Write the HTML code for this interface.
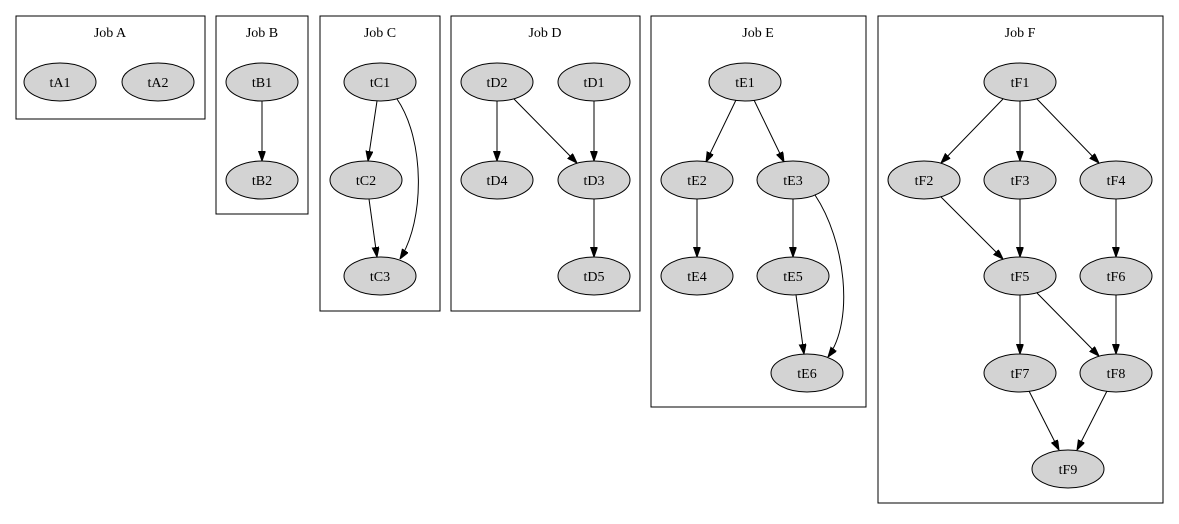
<!DOCTYPE html>
<html><head><meta charset="utf-8"><style>
html,body{margin:0;padding:0;background:#fff;}
text{font-family:"Liberation Serif",serif;font-size:14px;fill:#000;}
</style></head><body>
<svg width="1179" height="519" viewBox="0 0 1179 519" xmlns="http://www.w3.org/2000/svg">
<defs>
<marker id="a" markerWidth="10" markerHeight="8" refX="10" refY="3.5" orient="auto" markerUnits="userSpaceOnUse">
<path d="M0,0 L10,3.5 L0,7 Z" fill="#000" stroke="#000"/>
</marker>
</defs>
<g fill="none" stroke="#000" stroke-width="1">
<rect x="16" y="16" width="189" height="103"/>
<rect x="216" y="16" width="92" height="198"/>
<rect x="320" y="16" width="120" height="295"/>
<rect x="451" y="16" width="189" height="295"/>
<rect x="651" y="16" width="215" height="391"/>
<rect x="878" y="16" width="285" height="487"/>
</g>
<g text-anchor="middle">
<text x="110" y="37">Job A</text>
<text x="262" y="37">Job B</text>
<text x="380" y="37">Job C</text>
<text x="545" y="37">Job D</text>
<text x="758" y="37">Job E</text>
<text x="1020" y="37">Job F</text>
</g>
<g stroke="#000" fill="none" marker-end="url(#a)">
<line x1="262" y1="101" x2="262" y2="161"/>
<line x1="377" y1="101" x2="368" y2="161"/>
<path d="M397,99 C425,140 425,220 400,259"/>
<line x1="369" y1="199" x2="377" y2="257"/>
<line x1="497" y1="101" x2="497" y2="161"/>
<line x1="514" y1="99" x2="577" y2="163"/>
<line x1="594" y1="101" x2="594" y2="161"/>
<line x1="594" y1="199" x2="594" y2="257"/>
<line x1="736" y1="100" x2="706" y2="162"/>
<line x1="754" y1="100" x2="784" y2="162"/>
<line x1="697" y1="199" x2="697" y2="257"/>
<line x1="793" y1="199" x2="793" y2="257"/>
<line x1="796" y1="295" x2="804" y2="354"/>
<path d="M815,195 C845,240 855,320 828,357"/>
<line x1="1003" y1="99" x2="941" y2="163"/>
<line x1="1020" y1="101" x2="1020" y2="161"/>
<line x1="1037" y1="99" x2="1099" y2="163"/>
<line x1="941" y1="197" x2="1003" y2="259"/>
<line x1="1020" y1="199" x2="1020" y2="257"/>
<line x1="1116" y1="199" x2="1116" y2="257"/>
<line x1="1020" y1="295" x2="1020" y2="354"/>
<line x1="1037" y1="293" x2="1099" y2="356"/>
<line x1="1116" y1="295" x2="1116" y2="354"/>
<line x1="1029" y1="391" x2="1059" y2="450"/>
<line x1="1107" y1="391" x2="1077" y2="450"/>
</g>
<g fill="#d3d3d3" stroke="#000">
<ellipse cx="60" cy="82" rx="36" ry="19"/><ellipse cx="158" cy="82" rx="36" ry="19"/>
<ellipse cx="262" cy="82" rx="36" ry="19"/><ellipse cx="262" cy="180" rx="36" ry="19"/>
<ellipse cx="380" cy="82" rx="36" ry="19"/><ellipse cx="366" cy="180" rx="36" ry="19"/><ellipse cx="380" cy="276" rx="36" ry="19"/>
<ellipse cx="497" cy="82" rx="36" ry="19"/><ellipse cx="594" cy="82" rx="36" ry="19"/><ellipse cx="497" cy="180" rx="36" ry="19"/><ellipse cx="594" cy="180" rx="36" ry="19"/><ellipse cx="594" cy="276" rx="36" ry="19"/>
<ellipse cx="745" cy="82" rx="36" ry="19"/><ellipse cx="697" cy="180" rx="36" ry="19"/><ellipse cx="793" cy="180" rx="36" ry="19"/><ellipse cx="697" cy="276" rx="36" ry="19"/><ellipse cx="793" cy="276" rx="36" ry="19"/><ellipse cx="807" cy="373" rx="36" ry="19"/>
<ellipse cx="1020" cy="82" rx="36" ry="19"/><ellipse cx="924" cy="180" rx="36" ry="19"/><ellipse cx="1020" cy="180" rx="36" ry="19"/><ellipse cx="1116" cy="180" rx="36" ry="19"/><ellipse cx="1020" cy="276" rx="36" ry="19"/><ellipse cx="1116" cy="276" rx="36" ry="19"/><ellipse cx="1020" cy="373" rx="36" ry="19"/><ellipse cx="1116" cy="373" rx="36" ry="19"/><ellipse cx="1068" cy="469" rx="36" ry="19"/>
</g>
<g text-anchor="middle">
<text x="60" y="87">tA1</text><text x="158" y="87">tA2</text>
<text x="262" y="87">tB1</text><text x="262" y="185">tB2</text>
<text x="380" y="87">tC1</text><text x="366" y="185">tC2</text><text x="380" y="281">tC3</text>
<text x="497" y="87">tD2</text><text x="594" y="87">tD1</text><text x="497" y="185">tD4</text><text x="594" y="185">tD3</text><text x="594" y="281">tD5</text>
<text x="745" y="87">tE1</text><text x="697" y="185">tE2</text><text x="793" y="185">tE3</text><text x="697" y="281">tE4</text><text x="793" y="281">tE5</text><text x="807" y="378">tE6</text>
<text x="1020" y="87">tF1</text><text x="924" y="185">tF2</text><text x="1020" y="185">tF3</text><text x="1116" y="185">tF4</text><text x="1020" y="281">tF5</text><text x="1116" y="281">tF6</text><text x="1020" y="378">tF7</text><text x="1116" y="378">tF8</text><text x="1068" y="474">tF9</text>
</g>
</svg>
</body></html>
